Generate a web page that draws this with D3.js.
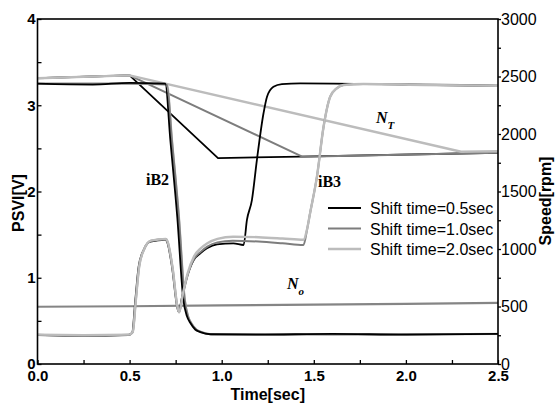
<!DOCTYPE html>
<html>
<head>
<meta charset="utf-8">
<script src="https://cdn.jsdelivr.net/npm/d3@7"></script>
<style>
  html, body { margin: 0; padding: 0; background: #fff; }
  svg { display: block; }
</style>
</head>
<body>
<div id="chart"></div>
<script>
// Tick values for the three axes
const timeTicks = [0, 0.5, 1.0, 1.5, 2.0, 2.5];
const psviTicks = [0, 1, 2, 3, 4];
const speedTicks = [0, 500, 1000, 1500, 2000, 2500, 3000];

// Legend entries, one per shift time
const shiftLabels = ["Shift time=0.5sec", "Shift time=1.0sec", "Shift time=2.0sec"];
const shiftColors = ["#000000", "#7d7d7d", "#bcbcbc"];

// PSVI of the off-going clutch iB2 [time s, volts]
const iB2_05 = [[0,3.25],[0.3,3.24],[0.5,3.26],[0.694,3.25],[0.721,2.60],[0.759,1.70],[0.792,0.74],[0.812,0.55],[0.830,0.475],[0.856,0.40],[0.884,0.37],[0.938,0.345],[1.2,0.34],[1.6,0.35],[2.0,0.34],[2.5,0.35]];
const iB2_10 = [[0,3.25],[0.3,3.25],[0.5,3.25],[0.703,3.24],[0.730,2.60],[0.768,1.70],[0.800,0.74],[0.818,0.55],[0.836,0.47],[0.862,0.40],[0.890,0.37],[0.944,0.345],[1.2,0.345],[1.6,0.34],[2.0,0.345],[2.5,0.35]];
const iB2_20 = [[0,3.25],[0.3,3.25],[0.5,3.25],[0.703,3.245],[0.730,2.60],[0.768,1.70],[0.800,0.74],[0.818,0.55],[0.836,0.47],[0.862,0.40],[0.890,0.37],[0.944,0.345],[1.2,0.34],[1.6,0.345],[2.0,0.34],[2.5,0.35]];

// PSVI of the on-coming clutch iB3 [time s, volts]
const iB3_05 = [[0,0.336],[0.25,0.33],[0.493,0.336],[0.514,0.36],[0.531,0.742],[0.549,1.128],[0.576,1.322],[0.613,1.418],[0.694,1.438],[0.703,1.418],[0.730,1.128],[0.758,0.664],[0.766,0.606],[0.785,0.78],[0.812,1.012],[0.848,1.206],[0.884,1.283],[0.920,1.341],[0.975,1.388],[1.063,1.399],[1.119,1.380],[1.137,1.670],[1.164,1.901],[1.191,2.365],[1.227,2.907],[1.246,3.099],[1.281,3.215],[1.327,3.246],[1.426,3.254],[2.0,3.24],[2.5,3.223]];
const iB3_10 = [[0,0.34],[0.25,0.33],[0.497,0.34],[0.517,0.37],[0.534,0.74],[0.552,1.13],[0.579,1.33],[0.616,1.43],[0.697,1.45],[0.706,1.42],[0.733,1.12],[0.760,0.66],[0.769,0.60],[0.788,0.79],[0.815,1.03],[0.850,1.22],[0.886,1.30],[0.922,1.36],[0.977,1.41],[1.060,1.43],[1.200,1.42],[1.330,1.40],[1.444,1.38],[1.463,1.554],[1.480,1.751],[1.517,2.172],[1.553,2.751],[1.589,3.099],[1.625,3.197],[1.661,3.235],[1.770,3.246],[2.1,3.24],[2.5,3.23]];
const iB3_20 = [[0,0.34],[0.25,0.335],[0.497,0.34],[0.517,0.37],[0.534,0.74],[0.552,1.13],[0.579,1.33],[0.616,1.43],[0.697,1.45],[0.706,1.42],[0.733,1.12],[0.760,0.66],[0.769,0.60],[0.788,0.80],[0.815,1.05],[0.850,1.25],[0.886,1.34],[0.922,1.40],[0.977,1.45],[1.063,1.476],[1.200,1.47],[1.330,1.455],[1.444,1.44],[1.463,1.56],[1.480,1.751],[1.517,2.172],[1.553,2.751],[1.589,3.099],[1.625,3.197],[1.661,3.235],[1.770,3.246],[2.1,3.235],[2.5,3.225]];

// Turbine speed N_T [time s, rpm]
const nT_05 = [[0,2485],[0.5,2510],[0.98,1791],[1.43,1803],[2.5,1837]];
const nT_10 = [[0,2485],[0.5,2510],[1.437,1803],[2.5,1837]];
const nT_20 = [[0,2485],[0.5,2510],[2.30,1846],[2.5,1850]];

// Output speed N_o [time s, rpm]
const nO = [[0,498],[0.5,502],[1.0,510],[1.5,516],[2.0,523],[2.5,531]];

const W = 555, H = 409;
const margin = { left: 37.5, right: 57, top: 19, bottom: 45 };
const x0 = margin.left, x1 = W - margin.right;
const y0 = H - margin.bottom, y1 = margin.top;

const svg = d3.select("#chart").append("svg")
  .attr("width", W).attr("height", H);

const x = d3.scaleLinear().domain([0, 2.5]).range([x0, x1]);
const yL = d3.scaleLinear().domain([0, 4]).range([y0, y1]);
const yR = d3.scaleLinear().domain([0, 3000]).range([y0, y1]);

const sans = "'Liberation Sans', Arial, sans-serif";
const serif = "'Liberation Serif', 'Times New Roman', serif";

// Pressure traces are smooth; speed traces are straight segments
const lineL = d3.line().x(d => x(d[0])).y(d => yL(d[1])).curve(d3.curveMonotoneX);
const lineR = d3.line().x(d => x(d[0])).y(d => yR(d[1])).curve(d3.curveLinear);

const curves = svg.append("g").attr("fill", "none").attr("stroke-linejoin", "round");

function draw(gen, data, color, width) {
  curves.append("path").attr("d", gen(data))
    .attr("stroke", color).attr("stroke-width", width);
}

draw(lineR, nO, "#858585", 2.2);

draw(lineR, nT_05, shiftColors[0], 1.8);
draw(lineR, nT_10, shiftColors[1], 2);
draw(lineR, nT_20, shiftColors[2], 2.4);

draw(lineL, iB2_20, shiftColors[2], 2.2);
draw(lineL, iB2_10, shiftColors[1], 1.8);
draw(lineL, iB2_05, shiftColors[0], 1.8);

draw(lineL, iB3_05, shiftColors[0], 1.8);
draw(lineL, iB3_10, shiftColors[1], 2);
draw(lineL, iB3_20, shiftColors[2], 2.4);

// Axes
const axisG = svg.append("g");

function styleAxis(g) {
  g.select(".domain").remove();
  g.selectAll("line").attr("stroke", "#000").attr("stroke-width", 1.3);
}

// Bottom axis: labelled major ticks plus minor ticks, pointing inward
axisG.append("g").attr("transform", `translate(0,${y0})`)
  .call(d3.axisBottom(x).tickValues(d3.range(0, 2.51, 0.25)).tickSize(-4).tickFormat(""))
  .call(styleAxis);
axisG.append("g").attr("transform", `translate(0,${y0})`)
  .call(d3.axisBottom(x).tickValues(timeTicks).tickSize(0).tickPadding(8).tickFormat(d3.format(".1f")))
  .call(g => {
    g.select(".domain").remove();
    g.selectAll("text").attr("font-family", sans).attr("font-weight", "bold")
      .attr("font-size", 15).attr("fill", "#000").attr("dy", "0.62em");
  });

// Left axis
axisG.append("g").attr("transform", `translate(${x0},0)`)
  .call(d3.axisLeft(yL).tickValues(d3.range(0, 4.01, 0.5)).tickSize(-4).tickFormat(""))
  .call(styleAxis);
axisG.append("g").attr("transform", `translate(${x0},0)`)
  .call(d3.axisLeft(yL).tickValues(psviTicks).tickSize(0).tickPadding(2).tickFormat(d3.format("d")))
  .call(g => {
    g.select(".domain").remove();
    g.selectAll("text").attr("font-family", sans).attr("font-weight", "bold")
      .attr("font-size", 15).attr("fill", "#000");
  });

// Right axis, ticks pointing outward
axisG.append("g").attr("transform", `translate(${x1},0)`)
  .call(d3.axisRight(yR).tickValues(d3.range(0, 3001, 250)).tickSize(3).tickFormat(""))
  .call(styleAxis);
axisG.append("g").attr("transform", `translate(${x1},0)`)
  .call(d3.axisRight(yR).tickValues(speedTicks).tickSize(0).tickPadding(3).tickFormat(d3.format("d")))
  .call(g => {
    g.select(".domain").remove();
    g.selectAll("text").attr("font-family", sans)
      .attr("font-size", 16).attr("fill", "#000");
  });

// Frame
svg.append("rect").attr("x", x0).attr("y", y1)
  .attr("width", x1 - x0).attr("height", y0 - y1)
  .attr("fill", "none").attr("stroke", "#000").attr("stroke-width", 1.6);

// Axis titles
svg.append("text").attr("x", (x0 + x1) / 2).attr("y", 400)
  .attr("text-anchor", "middle").attr("font-family", sans).attr("font-weight", "bold")
  .attr("font-size", 16).text("Time[sec]");
svg.append("text").attr("transform", "translate(24,203) rotate(-90)")
  .attr("text-anchor", "middle").attr("font-family", sans).attr("font-weight", "bold")
  .attr("font-size", 16).text("PSVI[V]");
svg.append("text").attr("transform", "translate(551,201) rotate(-90)")
  .attr("text-anchor", "middle").attr("font-family", sans).attr("font-weight", "bold")
  .attr("font-size", 16).text("Speed[rpm]");

// Curve annotations
function note(px, py, main, sub) {
  const t = svg.append("text").attr("x", px).attr("y", py)
    .attr("font-family", serif).attr("font-weight", "bold").attr("font-size", 16);
  if (sub) {
    t.attr("font-style", "italic");
    t.append("tspan").text(main);
    t.append("tspan").attr("dy", 6).attr("font-size", 11).text(sub);
  } else {
    t.text(main);
  }
}
note(146, 185, "iB2");
note(318, 187, "iB3");
note(376, 123, "N", "T");
note(287, 289, "N", "o");

// Legend
const legend = svg.append("g");
shiftLabels.forEach((label, i) => {
  const ly = 208 + i * 20.5;
  legend.append("line").attr("x1", 328).attr("x2", 361).attr("y1", ly).attr("y2", ly)
    .attr("stroke", shiftColors[i]).attr("stroke-width", i === 2 ? 2.4 : 2);
  legend.append("text").attr("x", 370).attr("y", ly + 6)
    .attr("font-family", sans).attr("font-size", 16).text(label);
});
</script>
</body>
</html>
